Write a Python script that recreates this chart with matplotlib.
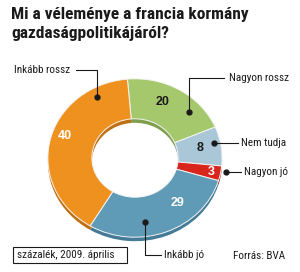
import matplotlib.pyplot as plt
import numpy as np

# --- data ---
labels = ["Nagyon rossz", "Nem tudja", "Nagyon jó", "Inkább jó", "Inkább rossz"]
values = [20, 8, 3, 29, 40]
colors = ["#a6c86c", "#a9c7d7", "#d8261d", "#5f9ab6", "#ef911f"]
dark = ["#7f9e4e", "#84a3b3", "#a01812", "#447c97", "#c06f10"]
text_colors = ["#1a1a1a", "#1a1a1a", "white", "white", "white"]

title = "Mi a véleménye a francia kormány\ngazdaságpolitikájáról?"
note = "százalék, 2009. április"
source = "Forrás: BVA"

W, H = 300, 272
fig = plt.figure(figsize=(W / 100, H / 100), dpi=100)
fig.patch.set_facecolor("white")

font = ["Roboto Condensed", "DejaVu Sans"]

# --- donut in its own (stretched) axes ---
cx, cy, rx, ry = 135, 158, 88, 80
pax = fig.add_axes([(cx - rx) / W, (H - cy - ry) / H, 2 * rx / W, 2 * ry / H])
pax.axis("off")

start = 95
# underside for a bit of depth
pax.pie(values, colors=dark, startangle=start, counterclock=False,
        center=(0, -0.05), radius=0.99,
        wedgeprops=dict(width=0.5, edgecolor="none"))
wedges, _ = pax.pie(values, colors=colors, startangle=start, counterclock=False,
                    center=(0, 0), radius=0.99,
                    wedgeprops=dict(width=0.5, edgecolor="#f4f4f4", linewidth=0.7))
pax.set_aspect("auto")
pax.set_xlim(-1, 1)
pax.set_ylim(-1, 1)

# value labels inside the ring (where along the wedge, and how far out)
label_frac = [0.4, 0.47, 0.5, 0.31, 0.54]
label_r = [0.77, 0.75, 0.88, 0.74, 0.84]
for w, v, tc, f, r in zip(wedges, values, text_colors, label_frac, label_r):
    ang = np.deg2rad(w.theta2 - f * (w.theta2 - w.theta1))
    pax.text(r * np.cos(ang), r * np.sin(ang), str(v), ha="center", va="center",
             fontsize=9, fontweight="bold", color=tc, family="Liberation Sans")

# --- overlay axes in pixel coords ---
ax = fig.add_axes([0, 0, 1, 1])
ax.set_xlim(0, W)
ax.set_ylim(H, 0)
ax.axis("off")
ax.patch.set_alpha(0)

ax.text(11, 7, title, ha="left", va="top", fontsize=12.5, fontweight="bold",
        family=font, linespacing=1.3, color="#1a1a1a")

# leader lines: (dot, path, text position, alignment)
leaders = [
    ("Inkább rossz", [(97, 97), (97, 70), (76, 70)], (70, 70), "right"),
    ("Nagyon rossz", [(189, 112), (189, 78), (224, 78)], (229, 78), "left"),
    ("Nem tudja", [(214, 143), (238, 143)], (241, 143), "left"),
    ("Nagyon jó", [(226, 172), (241, 172)], (244, 172), "left"),
    ("Inkább jó", [(145, 222), (145, 255), (161, 255)], (164, 255), "left"),
]
for name, path, (tx, ty), ha in leaders:
    xs, ys = zip(*path)
    ax.plot(xs, ys, color="#1a1a1a", lw=0.8)
    ax.plot(xs[0], ys[0], "o", color="#1a1a1a", ms=3.5)
    ax.text(tx, ty, name, ha=ha, va="center", fontsize=8, family=font,
            color="#1a1a1a")

# footer
ax.add_patch(plt.Rectangle((13, 247), 114, 16, fill=False, lw=0.8,
                           edgecolor="#1a1a1a"))
ax.text(17, 255.5, note, ha="left", va="center", fontsize=8, family=font,
        color="#1a1a1a")
ax.text(285, 256, source, ha="right", va="center", fontsize=8, family=font,
        color="#1a1a1a")

fig.savefig("out.png", dpi=100)
